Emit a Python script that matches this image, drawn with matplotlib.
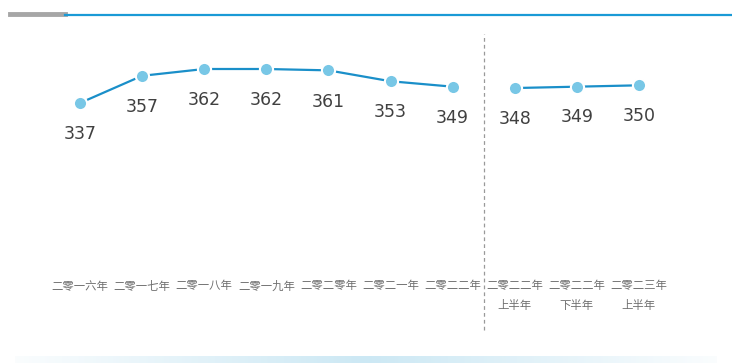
import matplotlib.pyplot as plt
import numpy as np

plt.rcParams["font.family"] = ["Noto Sans CJK SC", "DejaVu Sans"]

annual_labels = ["二零一六年", "二零一七年", "二零一八年", "二零一九年",
                 "二零二零年", "二零二一年", "二零二二年"]
annual_values = [337, 357, 362, 362, 361, 353, 349]
half_labels = ["二零二二年\n上半年", "二零二二年\n下半年", "二零二三年\n上半年"]
half_values = [348, 349, 350]

LINE = "#1a8fc9"
MARK = "#78c7e6"
W, H = 732, 363

fig = plt.figure(figsize=(W / 100, H / 100), dpi=100)
ax = fig.add_axes([0, 0, 1, 1])
ax.set_axis_off()

# map data to pixel layout: category i at 80 + 62.1*i px, 1.36 px per unit
step = 62.1
x0 = -80 / step
ax.set_xlim(x0, x0 + W / step)
ppu = 1.36
ax.set_ylim(337 - (H - 103) / ppu, 337 + 103 / ppu)

xa = np.arange(len(annual_values))
xh = np.arange(len(half_values)) + len(annual_values)

for xs, vals, off in [(xa, annual_values, -22.5), (xh, half_values, -22)]:
    ax.plot(xs, vals, color=LINE, lw=1.6, marker="o", ms=9.5,
            mfc=MARK, mec="white", mew=1.5, zorder=3)
    for x, v in zip(xs, vals):
        ax.annotate(str(v), (x, v), xytext=(0, off), textcoords="offset points",
                    ha="center", va="center", fontsize=12.5, color="#404040",
                    family="DejaVu Sans")

# category labels
for x, lab in zip(list(xa) + list(xh), annual_labels + half_labels):
    ax.text(x, 1 - 281 / H, lab, transform=ax.get_xaxis_transform(), ha="center",
            va="top", fontsize=8.2, color="#707070", linespacing=1.95)

# divider between annual and half-year data
ax.axvline(6.5, ymin=0.09, ymax=0.905, color="#999999", lw=0.9, ls=(0, (3, 2.5)))

# top rule
fig.add_artist(plt.Line2D([10 / W, 65 / W], [1 - 14 / H] * 2, color="#a6a6a6", lw=3.5,
                          transform=fig.transFigure))
fig.add_artist(plt.Line2D([65 / W, 1], [1 - 14.5 / H] * 2, color="#1a9ad6", lw=1.6,
                          transform=fig.transFigure))

# bottom gradient strip
grad = np.linspace(-1, 1, 400)
alpha = np.clip(1 - np.abs(grad), 0, 1)
strip = np.ones((1, 400, 4))
strip[..., :3] = np.array([0.80, 0.91, 0.96])
strip[..., 3] = 0.1 + 0.9 * alpha
sax = fig.add_axes([15 / W, 0, 1 - 30 / W, 7 / H])
sax.imshow(strip, aspect="auto", extent=(0, 1, 0, 1))
sax.set_axis_off()

fig.savefig("out.png", dpi=100)
